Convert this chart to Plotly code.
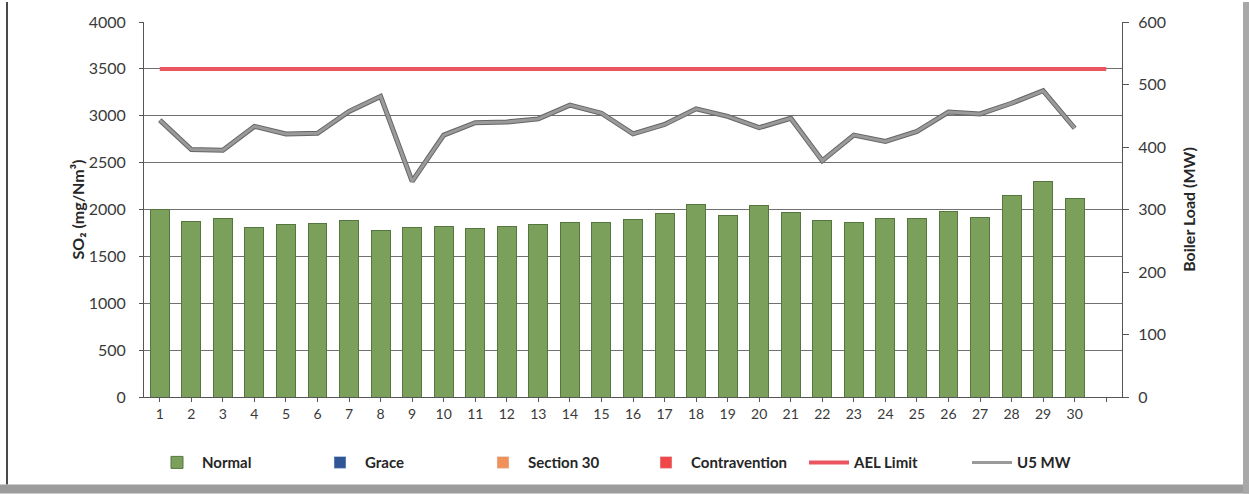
import plotly.graph_objects as go

days = list(range(1, 32))
day_labels = [str(d) for d in range(1, 31)] + [""]

so2_normal = [2000, 1870, 1900, 1810, 1840, 1850, 1880, 1780, 1810, 1815,
              1795, 1820, 1840, 1865, 1860, 1890, 1960, 2050, 1940, 2040,
              1970, 1880, 1860, 1900, 1905, 1975, 1920, 2145, 2295, 2115]
so2_grace = [None] * 30
so2_section30 = [None] * 30
so2_contravention = [None] * 30
ael_limit = [3500] * 31
u5_mw = [443, 396, 395, 433, 421, 422, 457, 481, 345, 419,
         439, 440, 445, 467, 454, 421, 436, 461, 449, 431,
         446, 378, 419, 409, 425, 456, 453, 470, 490, 430]

FONT = "Lato"
TXT = "#3a3a3a"

fig = go.Figure()
fig.add_trace(go.Bar(x=days[:30], y=so2_normal, name="Normal", width=0.6,
                     marker=dict(color="#7ba05b", line=dict(color="#56763f", width=1))))
fig.add_trace(go.Bar(x=days[:30], y=so2_grace, name="Grace", width=0.6,
                     marker=dict(color="#2f5597")))
fig.add_trace(go.Bar(x=days[:30], y=so2_section30, name="Section 30", width=0.6,
                     marker=dict(color="#f0905a")))
fig.add_trace(go.Bar(x=days[:30], y=so2_contravention, name="Contravention", width=0.6,
                     marker=dict(color="#f04848")))
fig.add_trace(go.Scatter(x=days, y=ael_limit, name="AEL Limit", mode="lines",
                         line=dict(color="#ea5560", width=4)))
fig.add_trace(go.Scatter(x=days[:30], y=u5_mw, name="U5 MW", mode="lines", yaxis="y2",
                         line=dict(color="#666666", width=5), showlegend=False,
                         hoverinfo="skip"))
fig.add_trace(go.Scatter(x=days[:30], y=u5_mw, name="U5 MW", mode="lines", yaxis="y2",
                         line=dict(color="#9a9a9a", width=3)))

L, R, T, B = 144, 1122, 20, 397
W, H = 1249, 494

def px_x(x):
    return (x - L) / (R - L)

def px_y(y):
    return (B - y) / (B - T)

shapes = [
    dict(type="line", xref="paper", yref="paper", x0=px_x(7), x1=px_x(7),
         y0=px_y(0), y1=px_y(485), line=dict(color="#4a4a4a", width=2)),
    dict(type="rect", xref="paper", yref="paper", x0=px_x(0), x1=px_x(W),
         y0=px_y(485), y1=px_y(H), line=dict(width=0), fillcolor="#9c9c9c"),
    dict(type="rect", xref="paper", yref="paper", x0=px_x(1243), x1=px_x(W),
         y0=px_y(0), y1=px_y(H), line=dict(width=0), fillcolor="#a8a8a8"),
]

fig.update_layout(
    width=W, height=H,
    margin=dict(l=L, r=W - R, t=T, b=H - B),
    paper_bgcolor="white", plot_bgcolor="white",
    barmode="stack",
    font=dict(family=FONT, color=TXT, size=16),
    shapes=shapes,
    xaxis=dict(range=[0.5, 31.5], tickmode="array", tickvals=days, ticktext=day_labels,
               showgrid=False, showline=True, linecolor="#555555", linewidth=1,
               ticks="outside", ticklen=4, tickcolor="#555555",
               tickfont=dict(size=14, family=FONT, color=TXT), zeroline=False),
    yaxis=dict(range=[0, 4000], dtick=500, showgrid=True, gridcolor="#707070", gridwidth=1,
               showline=True, linecolor="#555555", linewidth=1, zeroline=False,
               ticks="outside", ticklen=4, tickcolor="#555555", ticklabelstandoff=10,
               tickfont=dict(size=16, family=FONT, color=TXT),
               title=dict(text="SO₂ (mg/Nm³)", standoff=0,
                          font=dict(size=16, family=FONT, color="#262626", weight="bold"))),
    yaxis2=dict(range=[0, 600], dtick=100, overlaying="y", side="right", showgrid=False,
                showline=True, linecolor="#555555", linewidth=1, zeroline=False,
                ticks="outside", ticklen=6, tickcolor="#555555", ticklabelstandoff=6,
                tickfont=dict(size=16, family=FONT, color=TXT),
                title=dict(text="Boiler Load (MW)", standoff=18,
                           font=dict(size=16, family=FONT, color="#262626", weight="bold"))),
    legend=dict(orientation="h", x=px_x(641), xanchor="center", y=px_y(463), yanchor="middle",
                font=dict(size=15, family=FONT, color="#262626", weight="bold"),
                itemwidth=40, entrywidth=108, traceorder="normal", bgcolor="rgba(0,0,0,0)"),
    showlegend=True,
)

fig.write_html("out.html")
